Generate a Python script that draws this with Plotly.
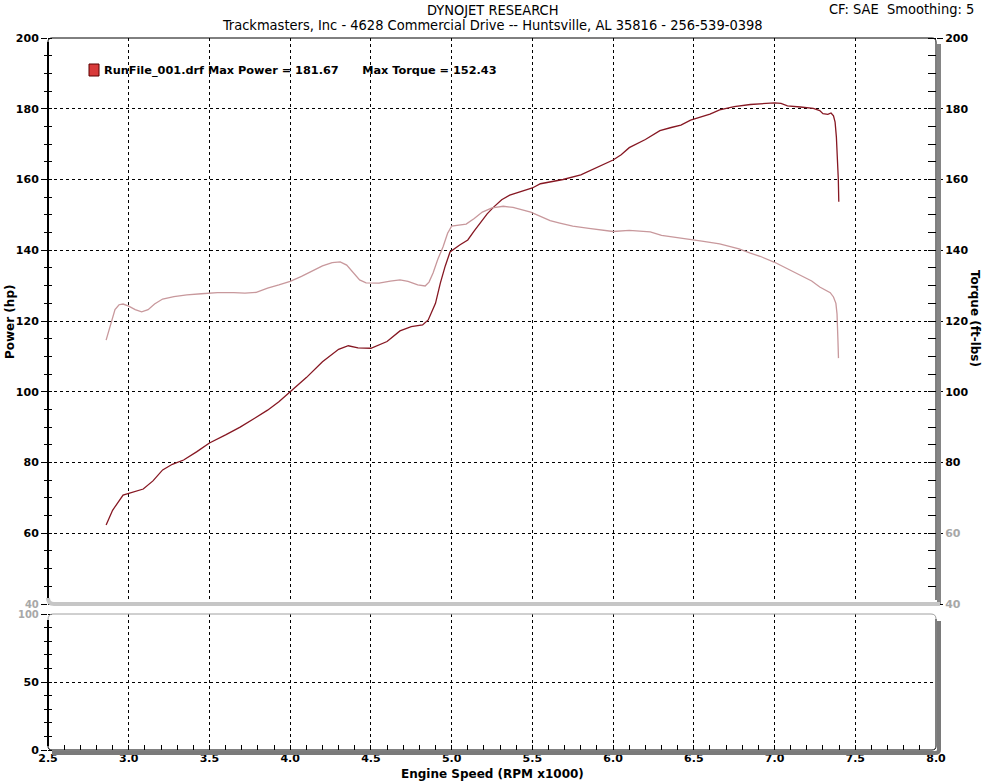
import plotly.graph_objects as go

# ---------------- data ----------------
power_rpm = [2.86, 2.90, 2.965, 3.02, 3.09, 3.15, 3.21, 3.27, 3.34, 3.42, 3.5, 3.6, 3.69, 3.78,
             3.86, 3.93, 4.0, 4.1, 4.2, 4.3, 4.36, 4.42, 4.5, 4.6, 4.68, 4.75, 4.82, 4.855, 4.9,
             4.93, 4.96, 4.99, 5.05, 5.10, 5.14, 5.18, 5.22, 5.26, 5.31, 5.36, 5.43, 5.5, 5.55,
             5.62, 5.69, 5.8, 5.9, 6.0, 6.05, 6.1, 6.2, 6.29, 6.36, 6.42, 6.48, 6.54, 6.6, 6.66,
             6.75, 6.85, 6.93, 7.0, 7.04, 7.08, 7.16, 7.24, 7.28, 7.3, 7.33, 7.35, 7.365, 7.375,
             7.383, 7.39, 7.395, 7.398]
power_hp = [62.3, 66.5, 70.8, 71.6, 72.5, 74.8, 77.9, 79.5, 80.7, 83.0, 85.5, 87.8, 90.0, 92.5,
            94.8, 97.2, 100.0, 104.0, 108.5, 112.0, 113.0, 112.4, 112.3, 114.2, 117.2, 118.4, 118.9,
            120.3, 125.0, 130.7, 135.5, 139.5, 141.5, 142.9, 145.5, 148.0, 150.3, 152.2, 154.3,
            155.6, 156.6, 157.6, 158.8, 159.4, 160.0, 161.3, 163.5, 165.5, 167.0, 169.0, 171.3,
            173.8, 174.7, 175.4, 176.8, 177.7, 178.5, 179.7, 180.6, 181.2, 181.4, 181.67, 181.5,
            180.8, 180.5, 180.1, 179.5, 178.6, 178.4, 178.8, 178.0, 176.2, 172.0, 166.0, 160.0, 153.7]

torque_rpm = [2.86, 2.89, 2.915, 2.94, 2.965, 3.0, 3.04, 3.08, 3.12, 3.16, 3.21, 3.28, 3.36, 3.45,
              3.55, 3.65, 3.72, 3.79, 3.86, 3.93, 4.0, 4.07, 4.14, 4.2, 4.26, 4.31, 4.35, 4.39,
              4.43, 4.47, 4.55, 4.62, 4.68, 4.73, 4.79, 4.836, 4.86, 4.885, 4.915, 4.947, 4.975,
              5.0, 5.04, 5.09, 5.14, 5.19, 5.25, 5.32, 5.38, 5.44, 5.49, 5.55, 5.61, 5.67, 5.75,
              5.85, 5.92, 6.0, 6.1, 6.23, 6.3, 6.42, 6.55, 6.66, 6.78, 6.85, 6.91, 7.0, 7.08,
              7.16, 7.23, 7.28, 7.32, 7.345, 7.365, 7.38, 7.387, 7.39, 7.393, 7.396]
torque_ftlb = [114.6, 119.0, 123.2, 124.6, 124.8, 124.2, 123.2, 122.6, 123.2, 124.8, 126.2, 126.9,
               127.4, 127.7, 128.0, 128.0, 127.9, 128.1, 129.3, 130.2, 131.2, 132.6, 134.2, 135.6,
               136.5, 136.7, 135.8, 133.8, 131.6, 130.8, 130.7, 131.3, 131.6, 131.2, 130.2, 129.9,
               131.0, 133.6, 137.5, 141.0, 144.8, 146.8, 147.1, 147.4, 149.0, 150.8, 152.0, 152.43,
               152.1, 151.4, 150.8, 149.6, 148.4, 147.7, 146.8, 146.2, 145.7, 145.3, 145.6, 145.2,
               144.2, 143.5, 142.6, 141.8, 140.4, 139.2, 138.3, 136.6, 134.8, 133.0, 131.3, 129.6,
               128.5, 128.0, 126.8, 125.0, 122.0, 119.4, 114.0, 109.5]

upper_ticks = [40, 60, 80, 100, 120, 140, 160, 180, 200]
lower_ticks = [0, 50, 100]
x_ticks = [2.5, 3.0, 3.5, 4.0, 4.5, 5.0, 5.5, 6.0, 6.5, 7.0, 7.5, 8.0]

max_power = 181.67
max_torque = 152.43

# ---------------- layout helpers ----------------
W, H = 984, 783
L, R, T, B = 48, 48, 38, 33
PW, PH = W - L - R, H - T - B


def px(x):
    return (x - L) / PW


def py(y):
    return (H - B - y) / PH


BOLD = "DejaVu Sans, Verdana, sans-serif"
TICKFONT = dict(family=BOLD, size=11, color="black", weight="bold")
NARROW = "DejaVu Sans Condensed, Liberation Sans Narrow, Arial Narrow, sans-serif"
GRID = dict(showgrid=True, gridcolor="black", gridwidth=1, griddash="3px,3px")
GREY_LBL = '<span style="color:#a8a8a8">%d</span>'
GREY_SMALL = '<span style="color:#a8a8a8;font-size:10px">%d</span>'

fig = go.Figure()
fig.add_trace(go.Scatter(x=power_rpm, y=power_hp, mode="lines", name="Power",
                         line=dict(color="#861722", width=1.3), xaxis="x", yaxis="y"))
fig.add_trace(go.Scatter(x=torque_rpm, y=torque_ftlb, mode="lines", name="Torque",
                         line=dict(color="#c8989c", width=1.3), xaxis="x", yaxis="y3"))
fig.add_trace(go.Scatter(x=[None], y=[None], mode="lines", xaxis="x2", yaxis="y2", showlegend=False))
fig.add_trace(go.Scatter(x=[None], y=[None], xaxis="x", yaxis="y4", showlegend=False))
fig.add_trace(go.Scatter(x=[None], y=[None], xaxis="x5", yaxis="y5", showlegend=False))

up_bot = py(604)
low_top = py(614)

left_text = [GREY_SMALL % v if v == 40 else str(v) for v in upper_ticks]
right_text = [GREY_LBL % v if v in (40, 60) else str(v) for v in upper_ticks]

fig.update_layout(
    width=W, height=H,
    margin=dict(l=L, r=R, t=T, b=B),
    paper_bgcolor="white", plot_bgcolor="white",
    showlegend=False,
    xaxis=dict(domain=[0, 1], anchor="y", range=[2.5, 8.0], tickvals=x_ticks[1:-1],
               showticklabels=False, ticks="", zeroline=False, showline=False, matches="x2", **GRID),
    yaxis=dict(domain=[up_bot, 1], anchor="x", range=[40, 200], tickvals=upper_ticks,
               ticktext=left_text, tickfont=TICKFONT, ticks="outside", ticklen=6, tickcolor="black",
               zeroline=False, showline=False, showgrid=False,
               minor=dict(dtick=5, tick0=40, ticks="outside", ticklen=3, tickcolor="black")),
    yaxis4=dict(overlaying="y", anchor="x", range=[40, 200], tickvals=upper_ticks[1:-1],
                showticklabels=False, ticks="", zeroline=False, showline=False,
                minor=dict(dtick=5, tick0=40, ticks="inside", ticklen=4, tickcolor="black"),
                **GRID),
    yaxis3=dict(overlaying="y", anchor="x", side="right", range=[40, 200], tickvals=upper_ticks,
                ticktext=right_text, tickfont=TICKFONT, ticks="outside", ticklen=6,
                tickcolor="black", zeroline=False, showline=False, showgrid=False,
                minor=dict(dtick=5, tick0=40, ticks="inside", ticklen=8, tickcolor="black")),
    xaxis2=dict(domain=[0, 1], anchor="y2", range=[2.5, 8.0], tickvals=x_ticks, tickformat=".1f",
                tickfont=TICKFONT, ticks="inside", ticklen=5, tickcolor="black", zeroline=False,
                showline=False, showgrid=False,
                minor=dict(dtick=0.1, tick0=2.5, ticks="inside", ticklen=5, tickcolor="black")),
    xaxis5=dict(overlaying="x2", anchor="y2", range=[2.5, 8.0], tickvals=x_ticks[1:-1],
                showticklabels=False, ticks="", zeroline=False, showline=False, **GRID),
    yaxis2=dict(domain=[0, low_top], anchor="x2", range=[0, 100], tickvals=lower_ticks,
                ticktext=["0", "50", GREY_SMALL % 100], tickfont=TICKFONT,
                ticks="outside", ticklen=6, tickcolor="black", zeroline=False, showline=False,
                minor=dict(dtick=10, tick0=0, ticks="outside", ticklen=3, tickcolor="black"),
                showgrid=False),
    yaxis5=dict(overlaying="y2", anchor="x2", range=[0, 100], tickvals=[50], showticklabels=False,
                ticks="", zeroline=False, showline=False,
                minor=dict(dtick=10, tick0=0, ticks="inside", ticklen=4, tickcolor="black"), **GRID),
)


def P(pts):
    out = []
    for cmd, coords in pts:
        out.append(cmd + " " + " ".join("%.5f,%.5f" % (px(a), py(b)) for a, b in coords))
    return " ".join(out)


def path_shape(pts, color, width):
    return dict(type="path", xref="paper", yref="paper", layer="above", path=P(pts),
                line=dict(color=color, width=width))


shapes = [
    # upper panel frame (top, left, right)
    path_shape([("M", [(48, 598)]), ("L", [(48, 42)]), ("Q", [(48, 38), (52, 38)]),
                ("L", [(932, 38)]), ("Q", [(936, 38), (936, 42)]), ("L", [(936, 600)])], "black", 1),
    path_shape([("M", [(48, 42)]), ("L", [(48, 598)])], "black", 2),
    # upper right shadow
    path_shape([("M", [(939, 44)]), ("L", [(939, 604)])], "#858585", 4),
    # upper bottom band (light grey)
    path_shape([("M", [(48, 598)]), ("Q", [(48, 604), (54, 604)]), ("L", [(940, 604)])], "#c6c6c6", 4),
    # lower panel top (grey)
    path_shape([("M", [(48, 620)]), ("Q", [(48, 614), (53, 614)]), ("L", [(931, 614)]),
                ("Q", [(936, 614), (936, 619)])], "#a0a0a0", 1),
    # lower panel right, bottom, left
    path_shape([("M", [(936, 619)]), ("L", [(936, 746)]), ("Q", [(936, 750), (932, 750)]),
                ("L", [(52, 750)]), ("Q", [(48, 750), (48, 746)]), ("L", [(48, 620)])], "black", 1),
    path_shape([("M", [(48, 620)]), ("L", [(48, 746)])], "black", 2),
    # lower shadows
    path_shape([("M", [(939, 621)]), ("L", [(939, 750)]), ("Q", [(939, 753), (935, 753)]),
                ("L", [(52, 753)])], "#7a7a7a", 4),
    # legend swatch
    dict(type="rect", xref="paper", yref="paper", layer="above",
         x0=px(89), x1=px(99), y0=py(76), y1=py(64),
         fillcolor="#d83a3a", line=dict(color="#5a0000", width=1)),
]
fig.update_layout(shapes=shapes)


def note(x, y, text, font, xanchor="center", angle=0):
    return dict(x=px(x), y=py(y), xref="paper", yref="paper", text=text, showarrow=False,
                xanchor=xanchor, yanchor="middle", textangle=angle, font=font)


NFONT = dict(family=NARROW, size=14.5, color="black")
BFONT = dict(family=BOLD, size=12, color="black", weight="bold")
ann = [
    note(492, 10, "DYNOJET RESEARCH", NFONT),
    note(492, 25, "Trackmasters, Inc - 4628 Commercial Drive -- Huntsville, AL 35816 - 256-539-0398", NFONT),
    note(976, 9, "CF: SAE&nbsp;&nbsp;Smoothing: 5", NFONT, xanchor="right"),
    note(102, 70, "RunFile_001.drf Max Power = %.2f&nbsp;&nbsp;&nbsp;&nbsp;&nbsp;&nbsp;Max Torque = %.2f"
         % (max_power, max_torque), dict(family=BOLD, size=11.3, color="black", weight="bold"),
         xanchor="left"),
    note(10, 322, "Power (hp)", BFONT, angle=-90),
    note(975, 318, "Torque (ft-lbs)", BFONT, angle=90),
    note(492, 774, "Engine Speed (RPM x1000)", BFONT),
]
fig.update_layout(annotations=ann)

fig.write_html("out.html", config={"displayModeBar": False},
               post_script="document.body.style.margin='0';document.body.style.padding='0';")
